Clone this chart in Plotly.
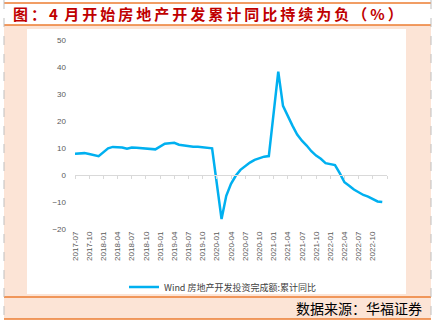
import plotly.graph_objects as go

# 房地产开发投资完成额：累计同比（%），月度（1月与2月合并公布）
months = [
    "2017-07", "2017-08", "2017-09", "2017-10", "2017-11", "2017-12",
    "2018-02", "2018-03", "2018-04", "2018-05", "2018-06", "2018-07",
    "2018-08", "2018-09", "2018-10", "2018-11", "2018-12",
    "2019-02", "2019-03", "2019-04", "2019-05", "2019-06", "2019-07",
    "2019-08", "2019-09", "2019-10", "2019-11", "2019-12",
    "2020-02", "2020-03", "2020-04", "2020-05", "2020-06", "2020-07",
    "2020-08", "2020-09", "2020-10", "2020-11", "2020-12",
    "2021-02", "2021-03", "2021-04", "2021-05", "2021-06", "2021-07",
    "2021-08", "2021-09", "2021-10", "2021-11", "2021-12",
    "2022-02", "2022-03", "2022-04", "2022-05", "2022-06", "2022-07",
    "2022-08", "2022-09", "2022-10", "2022-11", "2022-12",
]
invest_yoy = [
    7.9, 7.9, 8.1, 7.8, 7.5, 7.0,
    9.9, 10.4, 10.3, 10.2, 9.7, 10.2,
    10.1, 9.9, 9.7, 9.7, 9.5,
    11.6, 11.8, 11.9, 11.2, 10.9, 10.6,
    10.5, 10.5, 10.3, 10.2, 9.9,
    -16.3, -7.7, -3.3, -0.3, 1.9, 3.4,
    4.6, 5.6, 6.3, 6.8, 7.0,
    38.3, 25.6, 21.6, 18.3, 15.0, 12.7,
    10.9, 8.8, 7.2, 6.0, 4.4,
    3.7, 0.7, -2.7, -4.0, -5.4, -6.4,
    -7.4, -8.0, -8.8, -9.8, -10.0,
]
tick_labels = [
    "2017-07", "2017-10", "2018-01", "2018-04", "2018-07", "2018-10",
    "2019-01", "2019-04", "2019-07", "2019-10", "2020-01", "2020-04",
    "2020-07", "2020-10", "2021-01", "2021-04", "2021-07", "2021-10",
    "2022-01", "2022-04", "2022-07", "2022-10",
]
y_ticks = [50, 40, 30, 20, 10, 0, -10, -20]

series_name = "Wind 房地产开发投资完成额:累计同比"
title_text = "图：4 月开始房地产开发累计同比持续为负（%）"
source_text = "数据来源：华福证券"


def month_index(s):
    """Months elapsed since 2017-07 (monthly date axis)."""
    y, m = s.split("-")
    return (int(y) - 2017) * 12 + (int(m) - 7)


x_vals = [month_index(m) for m in months]
tick_vals = [month_index(t) for t in tick_labels]
x_end = tick_vals[-1] + 3  # axis closes at 2023-01

W, H = 436, 324
L, R, T, B = 75, 387, 40, 229  # plot area in pixels


def px(x):
    return (x - L) / (R - L)


def py(y):
    return (B - y) / (B - T)


BLUE = "#00B0F0"
PEACH = "#FCE4D6"
ORANGE = "#ED7D31"
GREY_TXT = "#595959"

fig = go.Figure()
fig.add_trace(go.Scatter(
    x=x_vals, y=invest_yoy, mode="lines", name=series_name,
    line=dict(color=BLUE, width=2.5), xaxis="x", yaxis="y",
))
# invisible companion trace so the zero-line axis is rendered
fig.add_trace(go.Scatter(
    x=[0, x_end], y=[0, 0], mode="lines", line=dict(width=0),
    showlegend=False, hoverinfo="skip", xaxis="x2", yaxis="y",
))

shapes = [
    dict(type="rect", xref="paper", yref="paper",
         x0=px(4), x1=px(431), y0=py(25), y1=py(319),
         fillcolor=PEACH, line=dict(width=0), layer="below"),
    dict(type="rect", xref="paper", yref="paper",
         x0=px(27), x1=px(406), y0=py(29), y1=py(294),
         fillcolor="white", line=dict(width=0), layer="below"),
]
for yy in (3, 25, 297, 319):
    shapes.append(dict(type="line", xref="paper", yref="paper",
                       x0=px(4), x1=px(431), y0=py(yy), y1=py(yy),
                       line=dict(color=ORANGE, width=1.5), layer="below"))
for xx in (4, 431):
    shapes.append(dict(type="line", xref="paper", yref="paper",
                       x0=px(xx), x1=px(xx), y0=py(0), y1=py(324),
                       line=dict(color="#BFBFBF", width=1, dash="dash"),
                       layer="below"))

# heading set with loose tracking (thin space between glyphs)
title_spaced = "\u2009".join(title_text.replace(" ", ""))
title_spaced = title_spaced.replace("4", "4 ")

annotations = [
    dict(text=title_spaced, xref="paper", yref="paper",
         x=px(11), y=py(14), xanchor="left", yanchor="middle",
         showarrow=False,
         font=dict(family="Noto Sans CJK SC", size=15, color="#C00000",
                   weight="bold")),
    dict(text=source_text, xref="paper", yref="paper",
         x=px(424), y=py(308), xanchor="right", yanchor="middle",
         showarrow=False,
         font=dict(family="Noto Sans CJK SC", size=14, color="#000000")),
]

fig.update_layout(
    width=W, height=H,
    margin=dict(l=L, r=W - R, t=T, b=H - B),
    paper_bgcolor="white", plot_bgcolor="rgba(0,0,0,0)",
    showlegend=True,
    legend=dict(
        orientation="h", xref="container", yref="container",
        x=124 / W, y=1 - 287 / H, xanchor="left", yanchor="middle",
        bgcolor="rgba(0,0,0,0)", itemwidth=30,
        font=dict(family="Noto Sans CJK SC", size=9, color="#404040"),
    ),
    xaxis=dict(
        range=[0, x_end], tickmode="array", tickvals=tick_vals,
        ticktext=tick_labels, tickangle=-90, showgrid=False,
        zeroline=False, showline=False, ticks="",
        tickfont=dict(family="Liberation Sans", size=8, color=GREY_TXT),
    ),
    xaxis2=dict(
        range=[0, x_end], overlaying="x", anchor="free",
        position=20 / 70, side="bottom",
        tickmode="array", tickvals=list(range(0, x_end + 1, 3)),
        showticklabels=False, showgrid=False, zeroline=False,
        showline=True, linecolor="#D9D9D9", linewidth=1,
        ticks="outside", ticklen=3, tickcolor="#D9D9D9", tickwidth=1,
    ),
    yaxis=dict(
        range=[-20, 50], tickmode="array", tickvals=y_ticks,
        showgrid=False, zeroline=False, showline=False, ticks="",
        ticklabelstandoff=8,
        tickfont=dict(family="Liberation Sans", size=8, color=GREY_TXT),
    ),
    shapes=shapes, annotations=annotations,
)

fig.write_html("out.html")
